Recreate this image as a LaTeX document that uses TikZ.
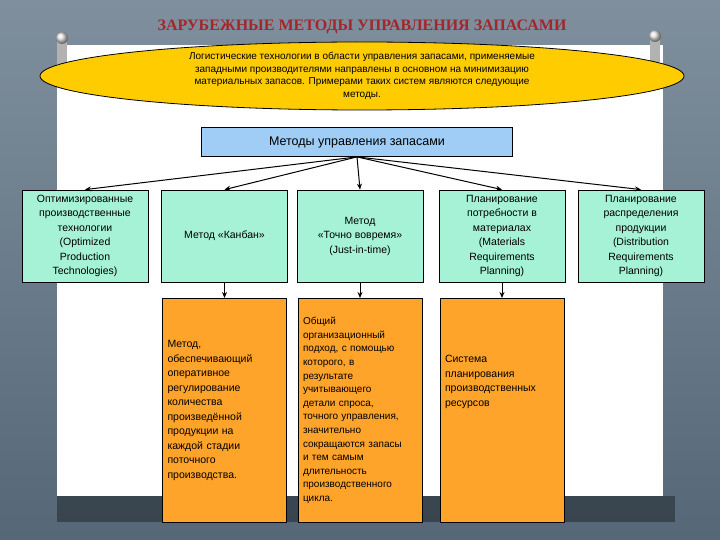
\documentclass[tikz,border=0pt]{standalone}
\usepackage{fontspec}
\setmainfont{Liberation Sans}
\newfontfamily\titlefont{Liberation Serif}
\usetikzlibrary{shapes.geometric,arrows.meta,shadings}
\begin{document}
\begin{tikzpicture}[x=1pt,y=-1pt,
  mint/.style={draw=black,fill=mintc,minimum width=126pt,minimum height=92pt,align=center,font=\fontsize{10.5}{14.5}\selectfont,inner sep=1pt,line width=0.8pt},
  orangebox/.style={draw=black,fill=orangec,text width=114pt,minimum height=224pt,align=left,font=\fontsize{10.5}{14.5}\selectfont,inner sep=5pt,line width=0.8pt,anchor=north},
  arr/.style={-{Stealth[length=6pt,width=5pt]},line width=1pt}]
\definecolor{bgc}{HTML}{5F7385}
\definecolor{mintc}{HTML}{A6F2D6}
\definecolor{orangec}{HTML}{FFA42A}
\definecolor{bluec}{HTML}{9FCDF5}
\definecolor{yelc}{HTML}{FFCC00}
\definecolor{titlec}{HTML}{A3262C}
\useasboundingbox (0,0) rectangle (720,540);
\shade[top color=bgc!80!white,bottom color=bgc!90!black] (0,0) rectangle (720,540);
\fill[black,opacity=0.35] (57,496) rectangle (675,522);
\fill[white] (57,45) rectangle (663,496);
% pins
\foreach \px/\py in {62/38,655/36}{
  \fill[gray!60] (\px-5,\py) rectangle (\px+5,\py+26);
  \shade[ball color=gray!20] (\px,\py) circle (6);
}
\node[font=\titlefont\bfseries\fontsize{16}{18}\selectfont,text=titlec] (title) at (362,27) {ЗАРУБЕЖНЫЕ МЕТОДЫ УПРАВЛЕНИЯ ЗАПАСАМИ};
\node[ellipse,draw=black,fill=yelc,minimum width=644pt,minimum height=68pt,inner sep=0pt,line width=0.8pt] (ell) at (362,76) {};
\node[align=center,font=\fontsize{10}{12.5}\selectfont] (elltext) at (362,76) {Логистические технологии в области управления запасами, применяемые\\западными производителями направлены в основном на минимизацию\\материальных запасов. Примерами таких систем являются следующие\\методы.};
\node[draw=black,fill=bluec,minimum width=311pt,minimum height=29pt,font=\fontsize{12.5}{14}\selectfont,line width=0.8pt] (top) at (357,142) {Методы управления запасами};
\node[mint] (a) at (85,236) {Оптимизированные\\производственные\\технологии\\(Optimized\\Production\\Technologies)};
\node[mint] (b) at (224.5,236) {Метод «Канбан»};
\node[mint] (c) at (360,236) {Метод\\«Точно вовремя»\\(Just-in-time)};
\node[mint] (d) at (502,236) {Планирование\\потребности в\\материалах\\(Materials\\Requirements\\Planning)};
\node[mint] (e) at (641,236) {Планирование\\распределения\\продукции\\(Distribution\\Requirements\\Planning)};
\foreach \n in {a,b,c,d,e}{\draw[arr] (top.south) -- (\n.north);}
\node[orangebox] (ob) at (224.5,298) {Метод,\\обеспечивающий\\оперативное\\регулирование\\количества\\произведённой\\продукции на\\каждой стадии\\поточного\\производства.};
\node[orangebox,font=\fontsize{10}{13.6}\selectfont] (oc) at (360,298) {Общий\\организационный\\подход, с помощью\\которого, в\\результате\\учитывающего\\детали спроса,\\точного управления,\\значительно\\сокращаются запасы\\и тем самым\\длительность\\производственного\\цикла.};
\node[orangebox] (od) at (502,298) {\\[-62pt]Система\\планирования\\производственных\\ресурсов};
\draw[arr] (b.south) -- (ob.north);
\draw[arr] (c.south) -- (oc.north);
\draw[arr] (d.south) -- (od.north);
\end{tikzpicture}
\end{document}
